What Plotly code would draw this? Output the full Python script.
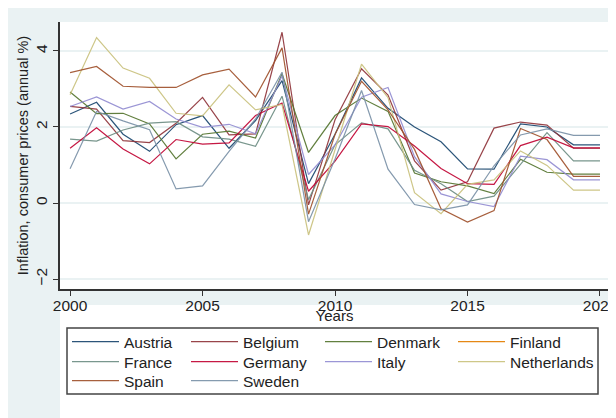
import plotly.graph_objects as go

years = list(range(2000, 2021))

austria = [2.34, 2.65, 1.81, 1.36, 2.06, 2.30, 1.44, 2.17, 3.22, 0.51, 1.81,
           3.29, 2.49, 2.00, 1.61, 0.90, 0.89, 2.08, 2.00, 1.53, 1.53]
belgium = [2.54, 2.47, 1.64, 1.59, 2.10, 2.78, 1.79, 1.82, 4.49, -0.05, 2.19,
           3.53, 2.84, 1.11, 0.34, 0.56, 1.97, 2.13, 2.05, 1.44, 1.44]
denmark = [2.92, 2.35, 2.36, 2.08, 1.16, 1.81, 1.89, 1.71, 3.40, 1.33, 2.30,
           2.76, 2.41, 0.79, 0.56, 0.45, 0.25, 1.15, 0.81, 0.76, 0.76]
finland = [None]
france = [1.68, 1.63, 1.92, 2.10, 2.14, 1.74, 1.68, 1.49, 2.81, 0.09, 1.53,
          2.11, 1.95, 0.86, 0.51, 0.04, 0.18, 1.03, 1.85, 1.11, 1.11]
germany = [1.44, 1.98, 1.42, 1.03, 1.67, 1.55, 1.58, 2.30, 2.63, 0.31, 1.10,
           2.08, 2.01, 1.50, 0.91, 0.51, 0.49, 1.51, 1.73, 1.45, 1.45]
italy = [2.54, 2.79, 2.47, 2.67, 2.21, 1.99, 2.07, 1.82, 3.35, 0.75, 1.53,
         2.78, 3.04, 1.22, 0.24, 0.04, -0.09, 1.23, 1.14, 0.61, 0.61]
netherlands = [2.85, 4.35, 3.55, 3.28, 2.36, 2.29, 3.11, 2.45, 2.59, -0.84, 1.40,
               3.65, 2.77, 0.27, -0.28, 0.49, 0.61, 1.37, 0.99, 0.34, 0.34]
spain = [3.43, 3.59, 3.07, 3.04, 3.04, 3.37, 3.52, 2.79, 4.08, -0.29, 1.80,
         3.20, 2.45, 1.41, -0.15, -0.50, -0.20, 1.96, 1.67, 0.70, 0.70]
sweden = [0.90, 2.41, 2.16, 1.93, 0.37, 0.45, 1.36, 2.21, 3.44, -0.49, 1.16,
          2.96, 0.89, -0.04, -0.18, -0.05, 0.98, 1.79, 1.95, 1.78, 1.78]

# Stata s2color order
series = [
    ("Austria", austria, "rgb(26,71,111)"),
    ("Belgium", belgium, "rgb(144,53,59)"),
    ("Denmark", denmark, "rgb(85,117,47)"),
    ("Finland", finland, "rgb(227,126,0)"),
    ("France", france, "rgb(110,142,132)"),
    ("Germany", germany, "rgb(193,5,52)"),
    ("Italy", italy, "rgb(147,141,210)"),
    ("Netherlands", netherlands, "rgb(202,194,126)"),
    ("Spain", spain, "rgb(160,82,45)"),
    ("Sweden", sweden, "rgb(123,146,168)"),
]

BG = "#EAF2F3"
FONT = "Liberation Sans, Arial, sans-serif"

# figure pixel frame (page adds 8px body margin): plot area 52..601 x 14..281
W, H = 616, 418
L, R, T = 52, 15, 14
PW, PH = W - L - R, H - T


def px(x):
    return (x - L) / PW


def py(y):
    return (H - y) / PH


# legend grid (4 columns, row-major like Stata)
col_text_x = [116, 235, 369, 502]
row_y = [334, 354, 373]

fig = go.Figure()
legends = {}
for i, (name, vals, color) in enumerate(series):
    lid = "legend" if i == 0 else "legend%d" % (i + 1)
    xs = years if vals[0] is not None else [None]
    fig.add_trace(go.Scatter(x=xs, y=vals, name=name, mode="lines", legend=lid,
                             line=dict(color=color, width=1.2), opacity=0.92))
    legends[lid] = dict(orientation="v", xanchor="left", yanchor="middle",
                        x=px(col_text_x[i % 4] - 57), y=py(row_y[i // 4]),
                        bgcolor="rgba(0,0,0,0)", borderwidth=0,
                        font=dict(size=15.5), itemwidth=47)

# x axis title in a hidden strip below the plot, so the legend box hides its lower half
fig.add_trace(go.Scatter(x=[0.5], y=[0.895], mode="text", text=["Years"],
                         xaxis="x2", yaxis="y2",
                         textfont=dict(size=15, color="#222"),
                         showlegend=False, hoverinfo="skip"))

fig.update_layout(
    width=W, height=H,
    margin=dict(l=L, r=R, t=T, b=0),
    paper_bgcolor=BG, plot_bgcolor="white",
    font=dict(family=FONT, size=15, color="#222"),
    showlegend=True,
    xaxis2=dict(domain=[0, 1], range=[0, 1], anchor="y2", visible=False),
    yaxis2=dict(domain=[0, py(297)], range=[0, 1], anchor="x2", visible=False),
    shapes=[
        dict(type="rect", xref="paper", yref="paper", x0=px(59), x1=px(590),
             y0=py(386), y1=py(320), fillcolor="white",
             line=dict(color="#444", width=1.5), layer="above"),
    ],
    **legends,
)

fig.update_layout(
    xaxis=dict(range=[1999.62, 2020.34], tickvals=[2000, 2005, 2010, 2015, 2020],
               ticks="outside", ticklen=5, tickcolor="#333", showgrid=False,
               showline=True, linecolor="#333", linewidth=1.5, zeroline=False,
               tickfont=dict(size=15.5), ticklabeloverflow="allow",
               ticklabelstandoff=-3, automargin=False, anchor="y"),
    yaxis=dict(domain=[py(281), 1], range=[-2.26, 4.76], tickvals=[-2, 0, 2, 4],
               tickangle=-90, ticks="outside", ticklen=5, tickcolor="#333",
               showgrid=True, gridcolor=BG, gridwidth=1.5,
               showline=True, linecolor="#333", linewidth=1.5, zeroline=False,
               tickfont=dict(size=15.5), automargin=False, anchor="x",
               title=dict(text="Inflation, consumer prices (annual %)", standoff=1,
                          font=dict(size=14.5))),
)

fig.write_html("out.html")
